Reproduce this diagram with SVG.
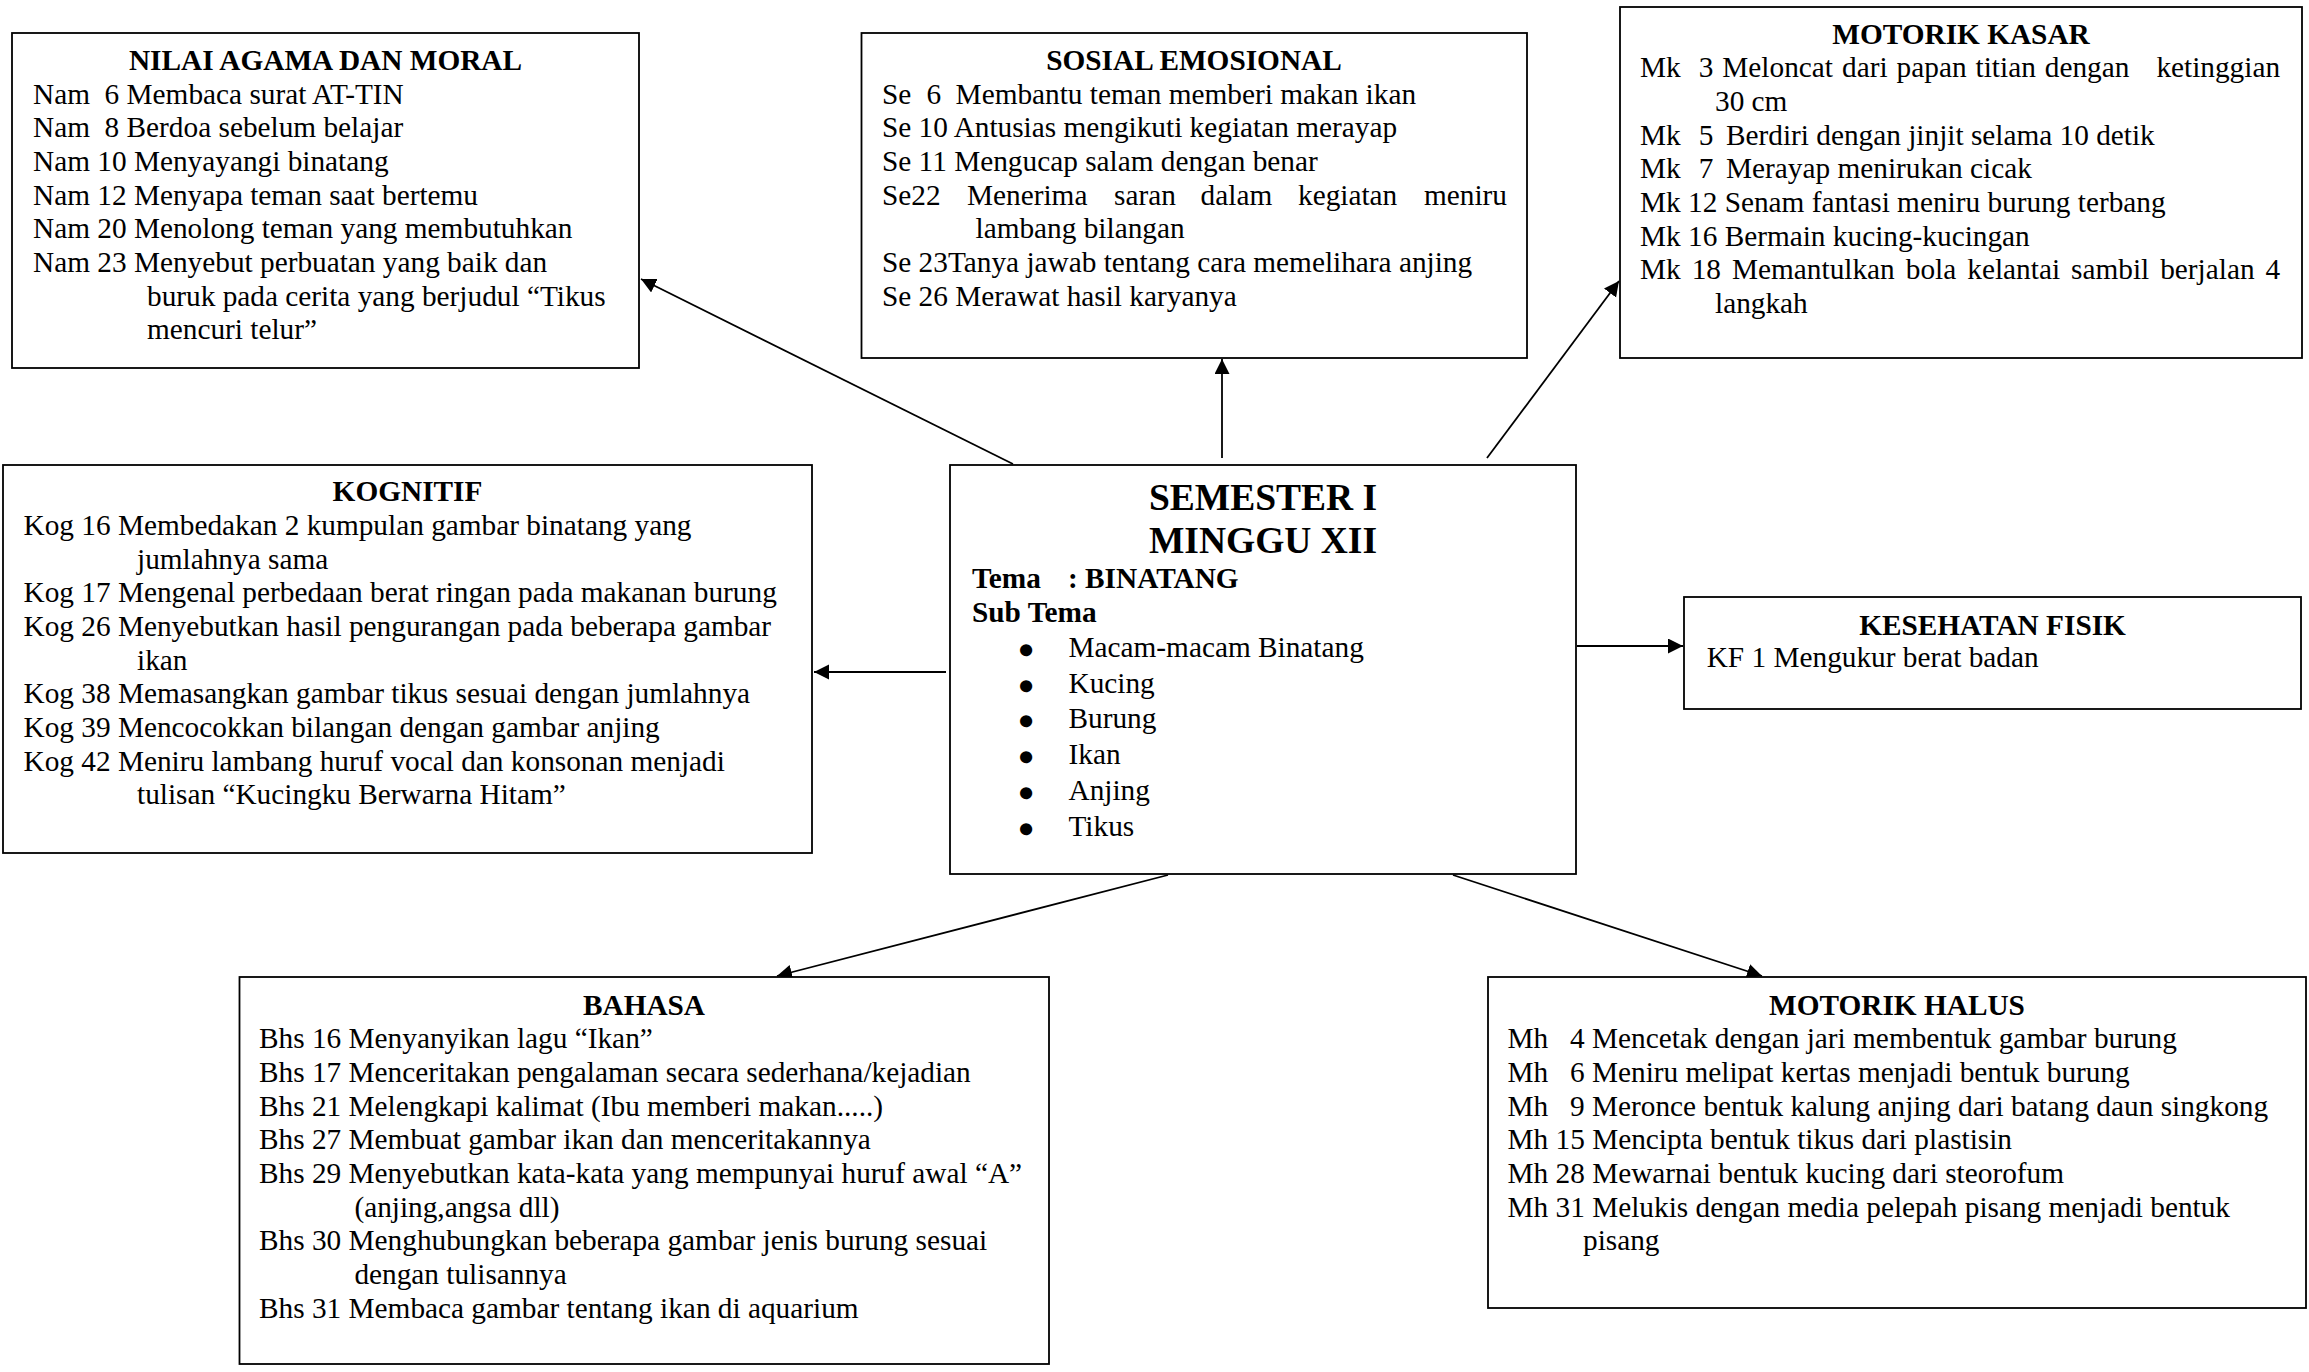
<svg xmlns="http://www.w3.org/2000/svg" width="2309" height="1372" viewBox="0 0 2309 1372">
<style>
.box{fill:#fff;stroke:#000;stroke-width:1.8}
.t{font-family:"Liberation Serif","Times New Roman",serif;font-size:29.3px;fill:#000}
.h{font-family:"Liberation Serif","Times New Roman",serif;font-size:29.3px;font-weight:bold;fill:#000;text-anchor:middle}
.b{font-weight:bold}
.bul{font-family:"Liberation Serif","Times New Roman",serif;font-size:32px;font-weight:bold;fill:#000;stroke:#000;stroke-width:3.5;stroke-linejoin:round;text-anchor:middle}
.title{font-family:"Liberation Serif","Times New Roman",serif;font-size:37.5px;font-weight:bold;fill:#000;text-anchor:middle}
.c{stroke:#000;stroke-width:1.8;fill:none;marker-end:url(#ah)}
</style>
<defs>
<marker id="ah" markerUnits="userSpaceOnUse" markerWidth="16" markerHeight="16" refX="15" refY="7.5" orient="auto" viewBox="0 0 16 16"><path d="M0,0 L15,7.5 L0,15 z" fill="#000"/></marker>
</defs>
<rect width="2309" height="1372" fill="#fff"/>
<g id="connectors">
<line class="c" x1="1013" y1="464" x2="641" y2="279"/>
<line class="c" x1="1222" y1="458" x2="1222" y2="359"/>
<line class="c" x1="1487" y1="458" x2="1619" y2="281"/>
<line class="c" x1="946" y1="672" x2="814" y2="672"/>
<line class="c" x1="1577" y1="646" x2="1683" y2="646"/>
<line class="c" x1="1168" y1="875" x2="777" y2="976"/>
<line class="c" x1="1453" y1="875" x2="1762" y2="976"/>
</g>
<g id="nilai-agama">
<rect class="box" x="12" y="33" width="627" height="335"/>
<text class="h" x="325.5" y="70">NILAI AGAMA DAN MORAL</text>
<text class="t" y="103.5"><tspan x="33">Nam</tspan><tspan x="104.6">6 Membaca surat AT-TIN</tspan></text>
<text class="t" y="137"><tspan x="33">Nam</tspan><tspan x="104.6">8 Berdoa sebelum belajar</tspan></text>
<text class="t" x="33" y="171">Nam 10 Menyayangi binatang</text>
<text class="t" x="33" y="204.5">Nam 12 Menyapa teman saat bertemu</text>
<text class="t" x="33" y="238">Nam 20 Menolong teman yang membutuhkan</text>
<text class="t" x="33" y="272">Nam 23 Menyebut perbuatan yang baik dan</text>
<text class="t" x="147" y="305.5">buruk pada cerita yang berjudul “Tikus</text>
<text class="t" x="147" y="339">mencuri telur”</text>
</g>
<g id="sosial-emosional">
<rect class="box" x="861.5" y="33" width="665.5" height="325"/>
<text class="h" x="1194" y="70">SOSIAL EMOSIONAL</text>
<text class="t" y="103.5"><tspan x="882">Se</tspan><tspan x="926.5">6</tspan><tspan x="955.6">Membantu teman memberi makan ikan</tspan></text>
<text class="t" x="882" y="137">Se 10 Antusias mengikuti kegiatan merayap</text>
<text class="t" x="882" y="171">Se 11 Mengucap salam dengan benar</text>
<text class="t" y="204.5"><tspan x="882">Se22</tspan><tspan x="967">Menerima</tspan><tspan x="1114">saran</tspan><tspan x="1200.6">dalam</tspan><tspan x="1298">kegiatan</tspan><tspan x="1424">meniru</tspan></text>
<text class="t" x="975.5" y="238">lambang bilangan</text>
<text class="t" x="882" y="272">Se 23Tanya jawab tentang cara memelihara anjing</text>
<text class="t" x="882" y="305.5">Se 26 Merawat hasil karyanya</text>
</g>
<g id="motorik-kasar">
<rect class="box" x="1620" y="7" width="682" height="351"/>
<text class="h" x="1961" y="43.5">MOTORIK KASAR</text>
<text class="t" y="77"><tspan x="1640">Mk</tspan><tspan x="1698.7">3</tspan><tspan x="1722.3">Meloncat</tspan><tspan x="1842">dari</tspan><tspan x="1896.6">papan</tspan><tspan x="1975.6">titian</tspan><tspan x="2044.8">dengan</tspan><tspan x="2156.4">ketinggian</tspan></text>
<text class="t" x="1715" y="110.5">30 cm</text>
<text class="t" y="144.5"><tspan x="1640">Mk</tspan><tspan x="1698.7">5</tspan><tspan x="1726">Berdiri dengan jinjit selama 10 detik</tspan></text>
<text class="t" y="178"><tspan x="1640">Mk</tspan><tspan x="1698.7">7</tspan><tspan x="1726">Merayap menirukan cicak</tspan></text>
<text class="t" x="1640" y="211.5">Mk 12 Senam fantasi meniru burung terbang</text>
<text class="t" x="1640" y="245.5">Mk 16 Bermain kucing-kucingan</text>
<text class="t" y="279"><tspan x="1640">Mk</tspan><tspan x="1691.7">18</tspan><tspan x="1732">Memantulkan</tspan><tspan x="1905.8">bola</tspan><tspan x="1967.3">kelantai</tspan><tspan x="2071.1">sambil</tspan><tspan x="2160.2">berjalan</tspan><tspan x="2265.6">4</tspan></text>
<text class="t" x="1715" y="312.5">langkah</text>
</g>
<g id="kognitif">
<rect class="box" x="3" y="465" width="809" height="388"/>
<text class="h" x="407.5" y="501">KOGNITIF</text>
<text class="t" x="23.5" y="535">Kog 16 Membedakan 2 kumpulan gambar binatang yang</text>
<text class="t" x="137" y="568.5">jumlahnya sama</text>
<text class="t" x="23.5" y="602">Kog 17 Mengenal perbedaan berat ringan pada makanan burung</text>
<text class="t" x="23.5" y="636">Kog 26 Menyebutkan hasil pengurangan pada beberapa gambar</text>
<text class="t" x="137" y="669.5">ikan</text>
<text class="t" x="23.5" y="703">Kog 38 Memasangkan gambar tikus sesuai dengan jumlahnya</text>
<text class="t" x="23.5" y="737">Kog 39 Mencocokkan bilangan dengan gambar anjing</text>
<text class="t" x="23.5" y="770.5">Kog 42 Meniru lambang huruf vocal dan konsonan menjadi</text>
<text class="t" x="137" y="804">tulisan “Kucingku Berwarna Hitam”</text>
</g>
<g id="center">
<rect class="box" x="950" y="465" width="626" height="409"/>
<text class="title" x="1263" y="510">SEMESTER I</text>
<text class="title" x="1263" y="553">MINGGU XII</text>
<text class="t b" x="972" y="588">Tema</text>
<text class="t b" x="1068" y="588">: BINATANG</text>
<text class="t b" x="972" y="622">Sub Tema</text>
<text class="bul" x="1026" y="661">•</text>
<text class="t" x="1068.5" y="657">Macam-macam Binatang</text>
<text class="bul" x="1026" y="696.5">•</text>
<text class="t" x="1068.5" y="692.5">Kucing</text>
<text class="bul" x="1026" y="732">•</text>
<text class="t" x="1068.5" y="728">Burung</text>
<text class="bul" x="1026" y="768">•</text>
<text class="t" x="1068.5" y="764">Ikan</text>
<text class="bul" x="1026" y="804">•</text>
<text class="t" x="1068.5" y="800">Anjing</text>
<text class="bul" x="1026" y="840">•</text>
<text class="t" x="1068.5" y="836">Tikus</text>
</g>
<g id="kesehatan-fisik">
<rect class="box" x="1684" y="597" width="617" height="112"/>
<text class="h" x="1992.5" y="635">KESEHATAN FISIK</text>
<text class="t" x="1706.7" y="667">KF 1 Mengukur berat badan</text>
</g>
<g id="bahasa">
<rect class="box" x="239.5" y="977" width="809.5" height="387"/>
<text class="h" x="644" y="1014.5">BAHASA</text>
<text class="t" x="259" y="1048">Bhs 16 Menyanyikan lagu “Ikan”</text>
<text class="t" x="259" y="1082">Bhs 17 Menceritakan pengalaman secara sederhana/kejadian</text>
<text class="t" x="259" y="1115.5">Bhs 21 Melengkapi kalimat (Ibu memberi makan.....)</text>
<text class="t" x="259" y="1149">Bhs 27 Membuat gambar ikan dan menceritakannya</text>
<text class="t" x="259" y="1183">Bhs 29 Menyebutkan kata-kata yang mempunyai huruf awal “A”</text>
<text class="t" x="354.4" y="1216.5">(anjing,angsa dll)</text>
<text class="t" x="259" y="1250">Bhs 30 Menghubungkan beberapa gambar jenis burung sesuai</text>
<text class="t" x="354.4" y="1284">dengan tulisannya</text>
<text class="t" x="259" y="1317.5">Bhs 31 Membaca gambar tentang ikan di aquarium</text>
</g>
<g id="motorik-halus">
<rect class="box" x="1488" y="977" width="818" height="331"/>
<text class="h" x="1897" y="1014.5">MOTORIK HALUS</text>
<text class="t" y="1048"><tspan x="1507.5">Mh</tspan><tspan x="1570">4 Mencetak dengan jari membentuk gambar burung</tspan></text>
<text class="t" y="1082"><tspan x="1507.5">Mh</tspan><tspan x="1570">6 Meniru melipat kertas menjadi bentuk burung</tspan></text>
<text class="t" y="1115.5"><tspan x="1507.5">Mh</tspan><tspan x="1570">9 Meronce bentuk kalung anjing dari batang daun singkong</tspan></text>
<text class="t" x="1507.5" y="1149">Mh 15 Mencipta bentuk tikus dari plastisin</text>
<text class="t" x="1507.5" y="1183">Mh 28 Mewarnai bentuk kucing dari steorofum</text>
<text class="t" x="1507.5" y="1216.5">Mh 31 Melukis dengan media pelepah pisang menjadi bentuk</text>
<text class="t" x="1583" y="1250">pisang</text>
</g>
</svg>
